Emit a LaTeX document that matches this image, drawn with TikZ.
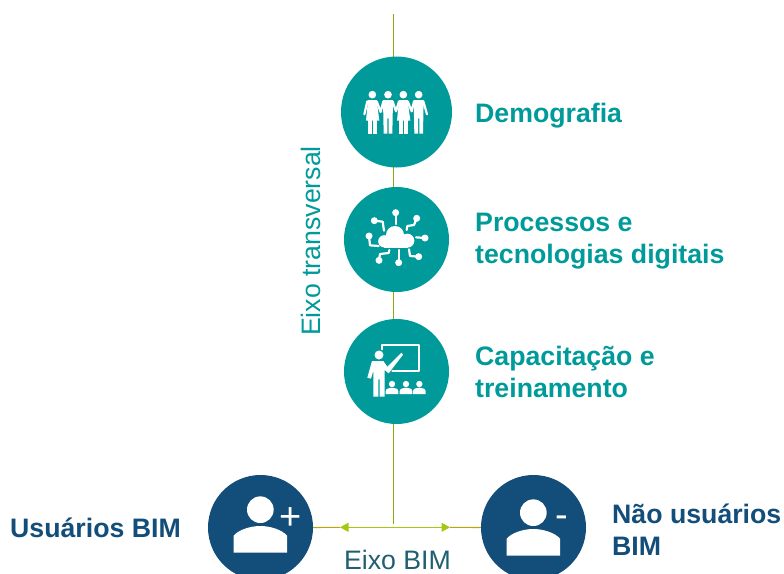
\documentclass[tikz,border=0pt]{standalone}
\usepackage{fontspec}
\setmainfont{Liberation Sans}
\usetikzlibrary{arrows.meta,backgrounds}
\definecolor{teal1}{HTML}{009A9A}
\definecolor{navy1}{HTML}{134D7A}
\definecolor{green1}{HTML}{A2C814}
\definecolor{gold1}{HTML}{B5A810}
\definecolor{axis1}{HTML}{1F5F70}
\tikzset{
  big/.style={circle,fill=teal1,inner sep=0pt,minimum size=105pt},
  usr/.style={circle,fill=navy1,inner sep=0pt,minimum size=105pt},
  lab/.style={font=\fontsize{26.7}{32}\selectfont\bfseries,text=teal1,anchor=west,align=left,inner sep=0pt},
  lab2/.style={font=\fontsize{26.7}{32}\selectfont\bfseries,text=navy1,anchor=west,align=left,inner sep=0pt},
  axt/.style={font=\fontsize{26.7}{32}\selectfont,inner sep=0pt},
  ic/.style={fill=white,draw=none},
  il/.style={draw=white,line width=2.2pt,fill=none,line cap=round,line join=round},
  sign/.style={font=\fontsize{38}{40}\selectfont,text=white,inner sep=0pt}
}
\begin{document}
\begin{tikzpicture}[x=1pt,y=-1pt]
\useasboundingbox (0,0) rectangle (784,573);
\clip (0,0) rectangle (784,573);
\coordinate (top) at (393.5,14);
\coordinate (bot) at (393.5,524);
\coordinate (mid) at (393.5,527.3);
\coordinate (tipL) at (340,527.3);
\coordinate (tipR) at (450,527.3);
\node[big,minimum size=111pt] (demo) at (396.5,112) {};
\node[big] (proc) at (396.5,239.5) {};
\node[big] (capa) at (396.5,371.5) {};
\node[usr] (usu) at (260.5,527.5) {};
\node[usr] (nao) at (533.5,527.5) {};
\begin{scope}[on background layer]
\draw[green1!85!black,line width=1.1pt] (top) -- (bot);
\draw[gold1,line width=1.1pt] (usu.east) -- (tipL);
\draw[gold1,line width=1.1pt] (nao.west) -- (tipR);
\draw[green1,line width=1.1pt,{Triangle[length=8.5pt,width=9pt]}-{Triangle[length=8.5pt,width=9pt]}] (tipL) -- (tipR);
\end{scope}
% people
\begin{scope}[shift={(330,50)},scale=1/3]
\foreach \h in {127,174,220,266} \fill[white] (\h,134) circle (11.5);
\foreach \h in {127,220} {
  \fill[ic] (\h-13,150) -- (\h+13,150) -- (\h+21,212) -- (\h-19,212) -- cycle;
  \fill[ic] (\h-12,205) rectangle (\h-2,251);
  \fill[ic] (\h+3,205) rectangle (\h+13,251);
}
\foreach \h in {174,266} {
  \fill[ic] (\h-15,150) -- (\h+15,150) -- (\h+13,251) -- (\h+2,251) -- (\h+2,205) -- (\h-2,205) -- (\h-2,251) -- (\h-13,251) -- cycle;
}
\draw[il] (112,154) -- (103,193);
\draw[il] (140,154) -- (152,186) -- (160,154);
\draw[il] (188,154) -- (198,184) -- (207,154);
\draw[il] (233,154) -- (245,184) -- (252,154);
\draw[il] (280,154) -- (291,193);
\end{scope}
% cloud
\begin{scope}[shift={(330,180)},scale=1/3]
\fill[ic] (163,184) circle (18.5) (195,165) circle (27) (232,182) circle (21);
\fill[ic] (163,180) rectangle (235,203);
\foreach \a/\b in {197/98,260/115,133/122,117/168,285/174,266/230,206/248,147/241} \fill[white] (\a,\b) circle (10.5);
\draw[il] (197,98) -- (197,132);
\draw[il] (260,115) -- (252,135) -- (232,138) -- (230,150);
\draw[il] (133,122) -- (158,125) -- (162,152);
\draw[il] (117,168) -- (120,196) -- (146,198);
\draw[il] (285,174) -- (258,172);
\draw[il] (266,230) -- (240,228) -- (237,208);
\draw[il] (206,248) -- (206,210);
\draw[il] (147,241) -- (150,222) -- (176,219) -- (178,210);
\end{scope}
% teacher
\begin{scope}[shift={(330,310)},scale=1/3]
\draw[il] (155,118) -- (155,105) -- (267,105) -- (267,182) -- (187,182);
\fill[white] (147,135) circle (13.5);
\fill[ic] (126,153) -- (160,153) -- (172,170) -- (214,128) -- (219,134) -- (176,190) -- (164,180) -- (164,260) -- (149,260) -- (149,208) -- (145,208) -- (145,260) -- (130,260) -- (130,182) -- (123,206) -- (112,203) -- cycle;
\foreach \h in {186,228,268} {
  \fill[white] (\h,222) circle (9.5);
  \fill[ic] (\h-19,252) -- (\h-19,244) .. controls (\h-19,236) and (\h-8,233) .. (\h,233) .. controls (\h+8,233) and (\h+19,236) .. (\h+19,244) -- (\h+19,252) -- cycle;
}
\end{scope}
% users
\begin{scope}[shift={(200,465)},scale=1/3]
\fill[white] (181,134) circle (40);
\fill[ic] (101,263) -- (101,212) .. controls (115,195) and (150,183) .. (181,183) .. controls (212,183) and (247,195) .. (261,212) -- (261,263) -- cycle;
\node[sign] (plus) at (272,160) {+};
\fill[white] (1000,143) circle (40);
\fill[ic] (920,272) -- (920,221) .. controls (934,204) and (969,192) .. (1000,192) .. controls (1031,192) and (1066,204) .. (1080,221) -- (1080,272) -- cycle;
\node[sign] (minus) at (1086,170) {-};
\end{scope}
\node[lab] (t1) at (475,115.5) {Demografia};
\node[lab] (t2) at (475,241.5) {Processos e\\tecnologias digitais};
\node[lab] (t3) at (475,372) {Capacitação e\\treinamento};
\node[lab2,anchor=center] (t4) at (95.5,528) {Usuários BIM};
\node[lab2] (t5) at (612,530) {Não usuários\\BIM};
\node[axt,text=teal1,rotate=90] (t6) at (311,241) {Eixo transversal};
\node[axt,text=axis1] (t7) at (397.5,560) {Eixo BIM};
\end{tikzpicture}
\end{document}
